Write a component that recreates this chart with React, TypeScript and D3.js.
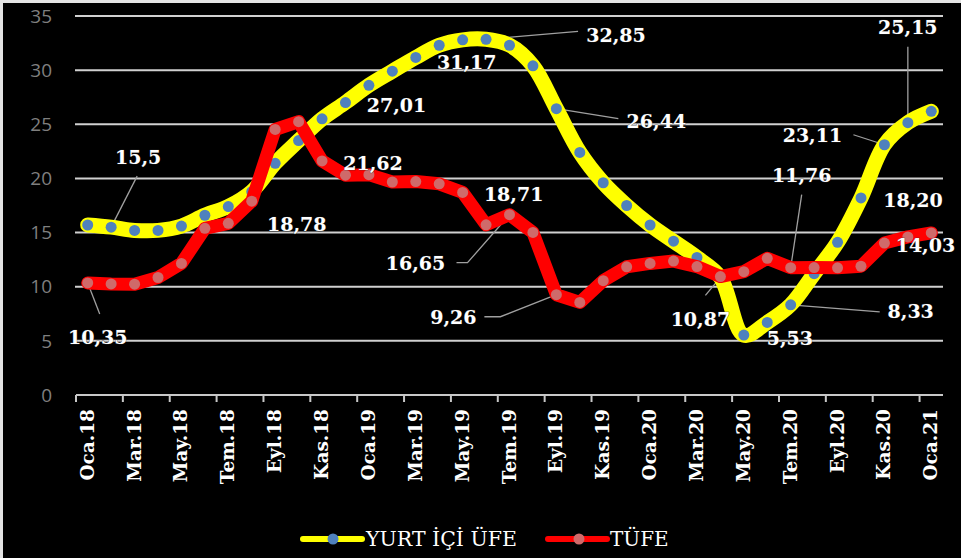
import React from 'react';
import * as d3 from 'd3';

// month names (Turkish) and years covered: Oca.18 .. Oca.21
const monthNames = ['Oca', 'Şub', 'Mar', 'Nis', 'May', 'Haz', 'Tem', 'Ağu', 'Eyl', 'Eki', 'Kas', 'Ara'];
const categories: string[] = [];
for (let y = 18; y <= 21; y++) {
  for (let m = 0; m < 12; m++) {
    if (y === 21 && m > 0) break;
    categories.push(`${monthNames[m]}.${y}`);
  }
}

const ufeValues = [
  15.7, 15.5, 15.2, 15.2, 15.6, 16.6, 17.4, 18.78, 21.4, 23.5, 25.5, 27.01,
  28.6, 29.9, 31.17, 32.3, 32.8, 32.85, 32.3, 30.4, 26.44, 22.4, 19.6, 17.5,
  15.7, 14.2, 12.7, 10.87, 5.53, 6.7, 8.33, 11.2, 14.1, 18.2, 23.11, 25.15, 26.2,
];

const tufeValues = [
  10.35, 10.26, 10.23, 10.85, 12.15, 15.39, 15.85, 17.9, 24.52, 25.24, 21.62, 20.3,
  20.35, 19.67, 19.71, 19.5, 18.71, 15.72, 16.65, 15.01, 9.26, 8.55, 10.56, 11.84,
  12.15, 12.37, 11.86, 10.94, 11.39, 12.62, 11.76, 11.77, 11.75, 11.89, 14.03, 14.6, 14.97,
];

const yTicks = [0, 5, 10, 15, 20, 25, 30, 35];
const seriesNames = ['YURT İÇİ ÜFE', 'TÜFE'];

// data labels: series, point index, text, label offset, leader offsets
type Note = { s: 0 | 1; i: number; text: string; dx: number; dy: number; leader?: [number, number][] };
const notes: Note[] = [
  { s: 0, i: 1, text: '15,5', dx: 27, dy: -70, leader: [[26, -51]] },
  { s: 1, i: 0, text: '10,35', dx: 10, dy: 54, leader: [[12, 31]] },
  { s: 0, i: 7, text: '18,78', dx: 45, dy: 33 },
  { s: 0, i: 11, text: '27,01', dx: 51, dy: 3 },
  { s: 0, i: 14, text: '31,17', dx: 51, dy: 5 },
  { s: 0, i: 17, text: '32,85', dx: 130, dy: -4, leader: [[92, -8]] },
  { s: 0, i: 20, text: '26,44', dx: 100, dy: 13, leader: [[62, 10]] },
  { s: 1, i: 10, text: '21,62', dx: 51, dy: 2 },
  { s: 1, i: 16, text: '18,71', dx: 51, dy: 2 },
  { s: 1, i: 18, text: '16,65', dx: -94, dy: 49, leader: [[-42, 48], [-53, 48]] },
  { s: 1, i: 20, text: '9,26', dx: -103, dy: 23, leader: [[-56, 22], [-72, 22]] },
  { s: 0, i: 27, text: '10,87', dx: -20, dy: 42, leader: [[-15, 18]] },
  { s: 0, i: 28, text: '5,53', dx: 46, dy: 3 },
  { s: 1, i: 30, text: '11,76', dx: 11, dy: -92, leader: [[11, -73]] },
  { s: 0, i: 30, text: '8,33', dx: 120, dy: 7, leader: [[89, 7]] },
  { s: 0, i: 34, text: '23,11', dx: -72, dy: -9, leader: [[-31, -10]] },
  { s: 0, i: 35, text: '25,15', dx: 0, dy: -95, leader: [[0, -76]] },
  { s: 0, i: 33, text: '18,20', dx: 52, dy: 2 },
  { s: 1, i: 34, text: '14,03', dx: 41, dy: 2 },
];

const W = 961;
const H = 558;
const left = 76;
const right = 943;
const top = 16;
const bottom = 395;

const serif = '"DejaVu Serif", "Liberation Serif", serif';

const App: React.FC = () => {
  const x = d3.scaleBand<string>().domain(categories).range([left, right]).padding(0);
  const y = d3.scaleLinear().domain([0, 35]).range([bottom, top]);
  const cx = (i: number) => (x(categories[i]) as number) + x.bandwidth() / 2;

  const series = [ufeValues, tufeValues];

  const ufeLine = d3.line<number>()
    .x((_, i) => cx(i))
    .y((d) => y(d))
    .curve(d3.curveCatmullRom.alpha(0.5));
  const tufeLine = d3.line<number>()
    .x((_, i) => cx(i))
    .y((d) => y(d));

  return (
    <>
      <style>{'body{margin:0}'}</style>
      <svg width={W} height={H} style={{ display: 'block' }}>
        <rect x={0} y={0} width={W} height={H} fill="#e4e4e4" />
        <rect x={3} y={3} width={W - 3} height={H - 3} fill="#000" />

        {/* grid */}
        {yTicks.filter((t) => t > 0).map((t) => (
          <line key={t} x1={left - 1} x2={right} y1={y(t)} y2={y(t)} stroke="#d0d0d0" strokeWidth={2} />
        ))}
        {yTicks.map((t) => (
          <text key={t} x={52} y={y(t)} dy="0.35em" textAnchor="end" fill="#7f7f7f"
            style={{ font: '19px "Open Sans", sans-serif' }}>{t}</text>
        ))}

        {/* x axis */}
        <line x1={left} x2={right} y1={bottom} y2={bottom} stroke="#c8c8c8" strokeWidth={2} />
        {categories.map((c, i) => i % 2 === 0 ? (
          <g key={c}>
            <line x1={x(c)} x2={x(c)} y1={bottom} y2={bottom + 7} stroke="#c8c8c8" strokeWidth={2} />
            <text transform={`translate(${cx(i) + 6},${bottom + 14}) rotate(-90)`} textAnchor="end"
              fill="#fff" style={{ font: `bold 18.5px ${serif}` }}>{c}</text>
          </g>
        ) : null)}

        {/* leader lines */}
        {notes.filter((n) => n.leader).map((n, k) => {
          const px = cx(n.i);
          const py = y(series[n.s][n.i]);
          const pts = [[px, py], ...n.leader!.map(([a, b]) => [px + a, py + b])];
          return (
            <polyline key={k} points={pts.map((p) => p.join(',')).join(' ')} fill="none"
              stroke="#a0a0a0" strokeWidth={1.3} />
          );
        })}

        {/* series */}
        <path d={ufeLine(ufeValues) ?? ''} fill="none" stroke="#ffff00" strokeWidth={15}
          strokeLinecap="round" strokeLinejoin="round" />
        {ufeValues.map((v, i) => (
          <circle key={i} cx={cx(i)} cy={y(v)} r={5.5} fill="#4f81bd" />
        ))}
        <path d={tufeLine(tufeValues) ?? ''} fill="none" stroke="#ff0000" strokeWidth={13}
          strokeLinecap="round" strokeLinejoin="round" />
        {tufeValues.map((v, i) => (
          <circle key={i} cx={cx(i)} cy={y(v)} r={5.5} fill="#cf6a6a" />
        ))}

        {/* data labels */}
        {notes.map((n, k) => (
          <text key={k} x={cx(n.i) + n.dx} y={y(series[n.s][n.i]) + n.dy} dy="0.35em" textAnchor="middle"
            fill="#fff" stroke="#333" strokeWidth={0.6} paintOrder="stroke"
            style={{ font: `bold 19px ${serif}` }}>{n.text}</text>
        ))}

        {/* legend */}
        <g transform="translate(303,539)">
          <line x1={0} x2={59} y1={0} y2={0} stroke="#ffff00" strokeWidth={6} strokeLinecap="round" />
          <circle cx={30} cy={0} r={5.5} fill="#4f81bd" />
          <text x={63} y={0} dy="0.35em" fill="#fff" style={{ font: `20.5px ${serif}` }}>{seriesNames[0]}</text>
          <line x1={245} x2={304} y1={0} y2={0} stroke="#ff0000" strokeWidth={6} strokeLinecap="round" />
          <circle cx={276} cy={0} r={5.5} fill="#cf6a6a" />
          <text x={307} y={0} dy="0.35em" fill="#fff" style={{ font: `20px ${serif}` }}>{seriesNames[1]}</text>
        </g>
      </svg>
    </>
  );
};

export default App;
